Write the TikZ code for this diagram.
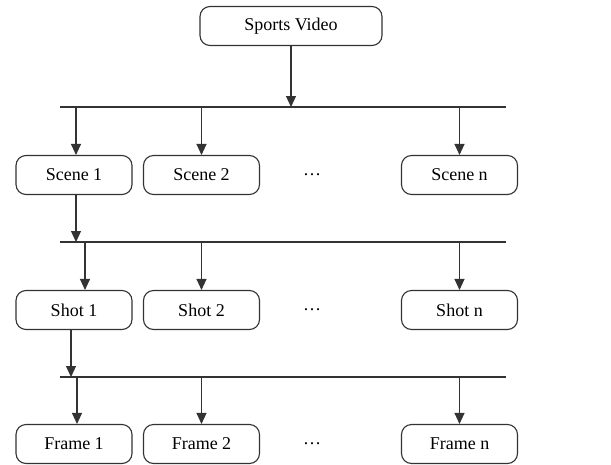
\documentclass[tikz,border=0pt]{standalone}
\usepackage{fontspec}
\setmainfont{Liberation Serif}
\usetikzlibrary{arrows.meta}
\definecolor{Ink}{HTML}{333333}
\tikzset{
  unit/.style={draw=Ink,line width=1.1pt,rounded corners=10pt,minimum width=116pt,minimum height=39pt,inner sep=0pt,font=\fontsize{18}{21}\selectfont},
  link/.style={draw=Ink,line width=1.1pt,-{Triangle[width=10pt,length=11pt]}},
  bus/.style={draw=Ink,line width=1.1pt}
}

\begin{document}
\begin{tikzpicture}[x=1pt,y=-1pt]
\useasboundingbox (0,0) rectangle (611,464);
\node[unit,minimum width=182pt] (video) at (291,26) {Sports Video};
\foreach \y/\r/\t in {175/scene/Scene,310/shot/Shot,444/frame/Frame}{
  \node[unit] (\r1) at (74,\y) {\t\ 1};
  \node[unit] (\r2) at (201.5,\y) {\t\ 2};
  \node[unit] (\r-n) at (459.5,\y) {\t\ n};
  \node[font=\fontsize{18}{21}\selectfont] (\r-dots) at (312,\y) {\dots};
}
\foreach \y/\b in {107/bus1,242/bus2,377/bus3}{
  \coordinate (\b w) at (60,\y);
  \coordinate (\b e) at (506,\y);
  \draw[bus] (\b w) -- (\b e);
}
\draw[link] (video.south) -- (video.south |- bus1w);
\foreach \r/\b in {scene/bus1,shot/bus2,frame/bus3}{
  \draw[link] (\r2.north |- \b w) -- (\r2.north);
  \draw[link] (\r-n.north |- \b w) -- (\r-n.north);
}
\draw[link] ([xshift=2pt]scene1.north |- bus1w) -- ([xshift=2pt]scene1.north);
\draw[link] ([xshift=11pt]shot1.north |- bus2w) -- ([xshift=11pt]shot1.north);
\draw[link] ([xshift=3pt]frame1.north |- bus3w) -- ([xshift=3pt]frame1.north);
% links down to the next level
\draw[link] ([xshift=2pt]scene1.south) -- ([xshift=2pt]scene1.south |- bus2w);
\draw[link] ([xshift=-3pt]shot1.south) -- ([xshift=-3pt]shot1.south |- bus3w);
\end{tikzpicture}
\end{document}
